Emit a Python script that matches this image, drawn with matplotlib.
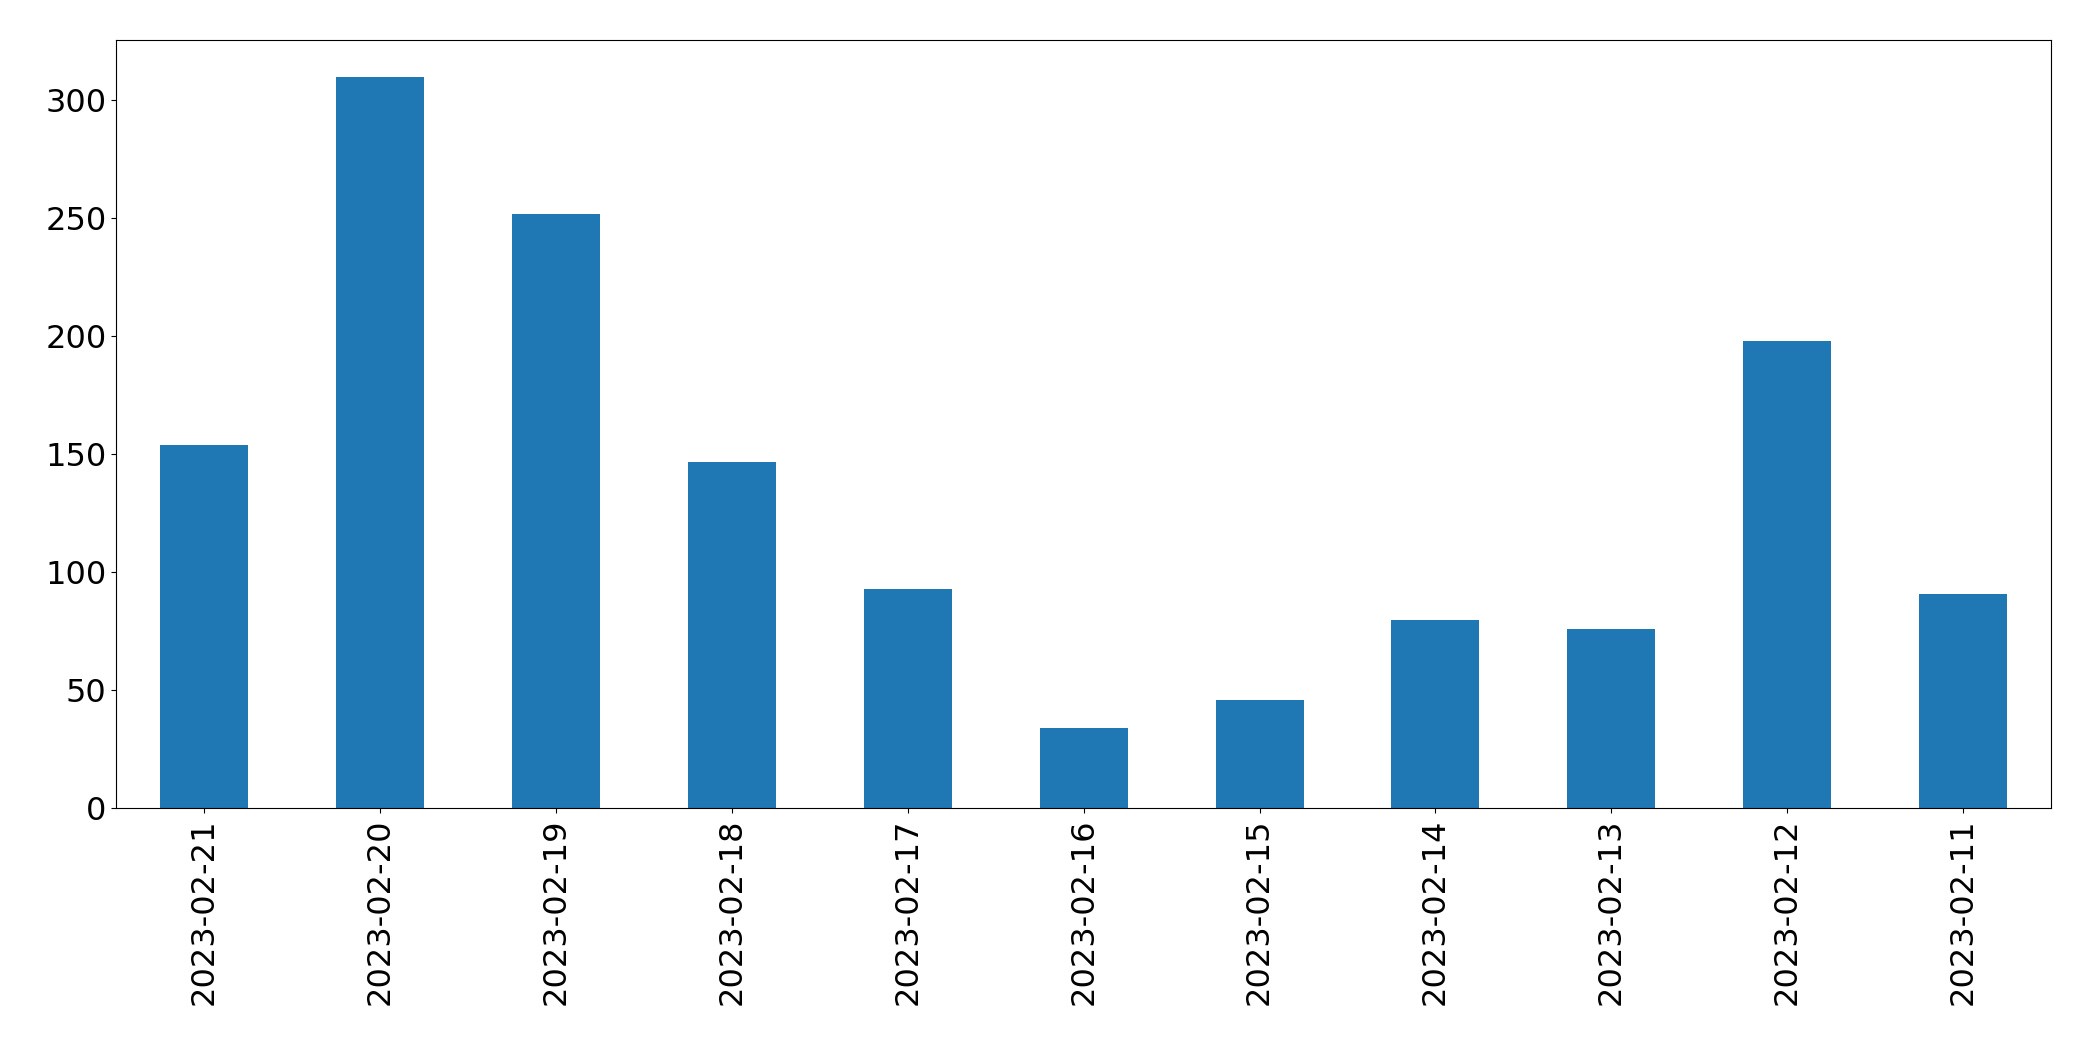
import matplotlib
matplotlib.use("Agg")
import matplotlib.pyplot as plt

dates = ["2023-02-21","2023-02-20","2023-02-19","2023-02-18","2023-02-17","2023-02-16",
         "2023-02-15","2023-02-14","2023-02-13","2023-02-12","2023-02-11"]
counts = [154, 310, 252, 147, 93, 34, 46, 80, 76, 198, 91]

fig = plt.figure(figsize=(20.93, 10.61), dpi=100)
ax = fig.add_axes([0.0555, 0.238, 0.9245, 0.724])
x = list(range(len(dates)))
ax.bar(x, counts, width=0.5, color="#1f77b4")
ax.set_xticks(x)
ax.set_xticklabels(dates, rotation=90)
ax.set_xlim(-0.5, len(dates) - 0.5)
ax.set_ylim(0, max(counts) * 1.05)
ax.tick_params(labelsize=23)
fig.savefig("out.png", dpi=100)
